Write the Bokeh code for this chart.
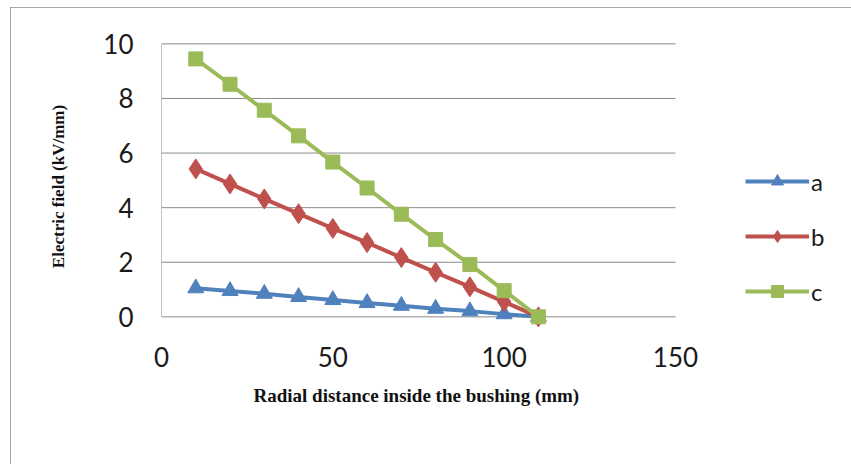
from bokeh.plotting import figure
from bokeh.models import Range1d, FixedTicker, Legend, LegendItem, Title
from bokeh.embed import file_html
from bokeh.resources import INLINE

x = [10, 20, 30, 40, 50, 60, 70, 80, 90, 100, 110]
a = [1.05, 0.95, 0.85, 0.73, 0.62, 0.51, 0.41, 0.30, 0.21, 0.10, 0.0]
b = [5.42, 4.87, 4.32, 3.78, 3.24, 2.72, 2.17, 1.63, 1.10, 0.55, 0.0]
c = [9.45, 8.52, 7.57, 6.63, 5.67, 4.72, 3.76, 2.83, 1.92, 0.96, 0.0]
series_names = ["a", "b", "c"]
x_ticks = [0, 50, 100, 150]
y_ticks = [0, 2, 4, 6, 8, 10]
x_title = "Radial distance inside the bushing (mm)"
y_title = "Electric field (kV/mm)"

BLUE = "#4F81BD"
RED = "#C0504D"
GREEN = "#9BBB59"
GRID = "#8a8a8a"

p = figure(width=841, height=457, output_backend="svg", toolbar_location=None,
           x_range=Range1d(0, 196.7), y_range=Range1d(-0.5, 10.05),
           min_border_left=151, min_border_top=35, min_border_right=16,
           min_border_bottom=134)
p.styles = {"outline": "1px solid #8a8a8a", "outline-offset": "-1px",
            "margin-left": "10px", "margin-top": "7px"}
p.outline_line_color = None
p.background_fill_color = "white"
p.border_fill_color = "white"
p.xgrid.grid_line_color = None
p.ygrid.grid_line_color = None

# plot-area grid (spans only the x tick extent) and left axis line
p.segment(x0=[x_ticks[0]] * len(y_ticks), x1=[x_ticks[-1]] * len(y_ticks),
          y0=y_ticks, y1=y_ticks, line_color=GRID, line_width=1)
p.segment(x0=[x_ticks[0]], x1=[x_ticks[0]], y0=[y_ticks[0]], y1=[y_ticks[-1]],
          line_color=GRID, line_width=1)

p.xaxis.ticker = FixedTicker(ticks=x_ticks)
p.yaxis.ticker = FixedTicker(ticks=y_ticks)
for ax in (p.xaxis[0], p.yaxis[0]):
    ax.major_tick_line_color = None
    ax.minor_tick_line_color = None
    ax.axis_line_color = None
    ax.major_label_text_font = "Lato"
    ax.major_label_text_font_size = "26px"
    ax.major_label_text_color = "#1a1a1a"
    ax.axis_label_text_font = "Liberation Serif"
    ax.axis_label_text_font_style = "bold"
    ax.axis_label_text_color = "#111111"
p.yaxis.axis_label_text_font_size = "17px"
p.xaxis.major_label_standoff = 10
p.yaxis.major_label_standoff = 22
p.yaxis.axis_label = y_title
p.yaxis.axis_label_standoff = 32

xt = Title(text=x_title, align="left", offset=92, standoff=26,
           text_font="Liberation Serif", text_font_style="bold",
           text_font_size="19px", text_color="#111111")
p.add_layout(xt, "below")

la = p.line(x, a, line_color=BLUE, line_width=4)
sa = p.scatter(x, a, marker="triangle", size=16, fill_color=BLUE, line_color=BLUE)
lb = p.line(x, b, line_color=RED, line_width=4)
sb = p.scatter(x, b, marker="diamond", size=20, fill_color=RED, line_color=RED)
lc = p.line(x, c, line_color=GREEN, line_width=4)
sc = p.scatter(x, c, marker="square", size=14, fill_color=GREEN, line_color=GREEN)

legend = Legend(items=[LegendItem(label=series_names[0], renderers=[la, sa]),
                       LegendItem(label=series_names[1], renderers=[lb, sb]),
                       LegendItem(label=series_names[2], renderers=[lc, sc])],
                location=(584, 24), padding=0, margin=0, spacing=25,
                glyph_width=64, glyph_height=30, label_height=20,
                label_standoff=2, label_text_font="Lato",
                label_text_font_size="24px", label_text_baseline="middle",
                label_text_color="#1a1a1a",
                background_fill_alpha=0, border_line_color=None)
p.add_layout(legend)

open("out.html", "w").write(file_html(p, INLINE))
